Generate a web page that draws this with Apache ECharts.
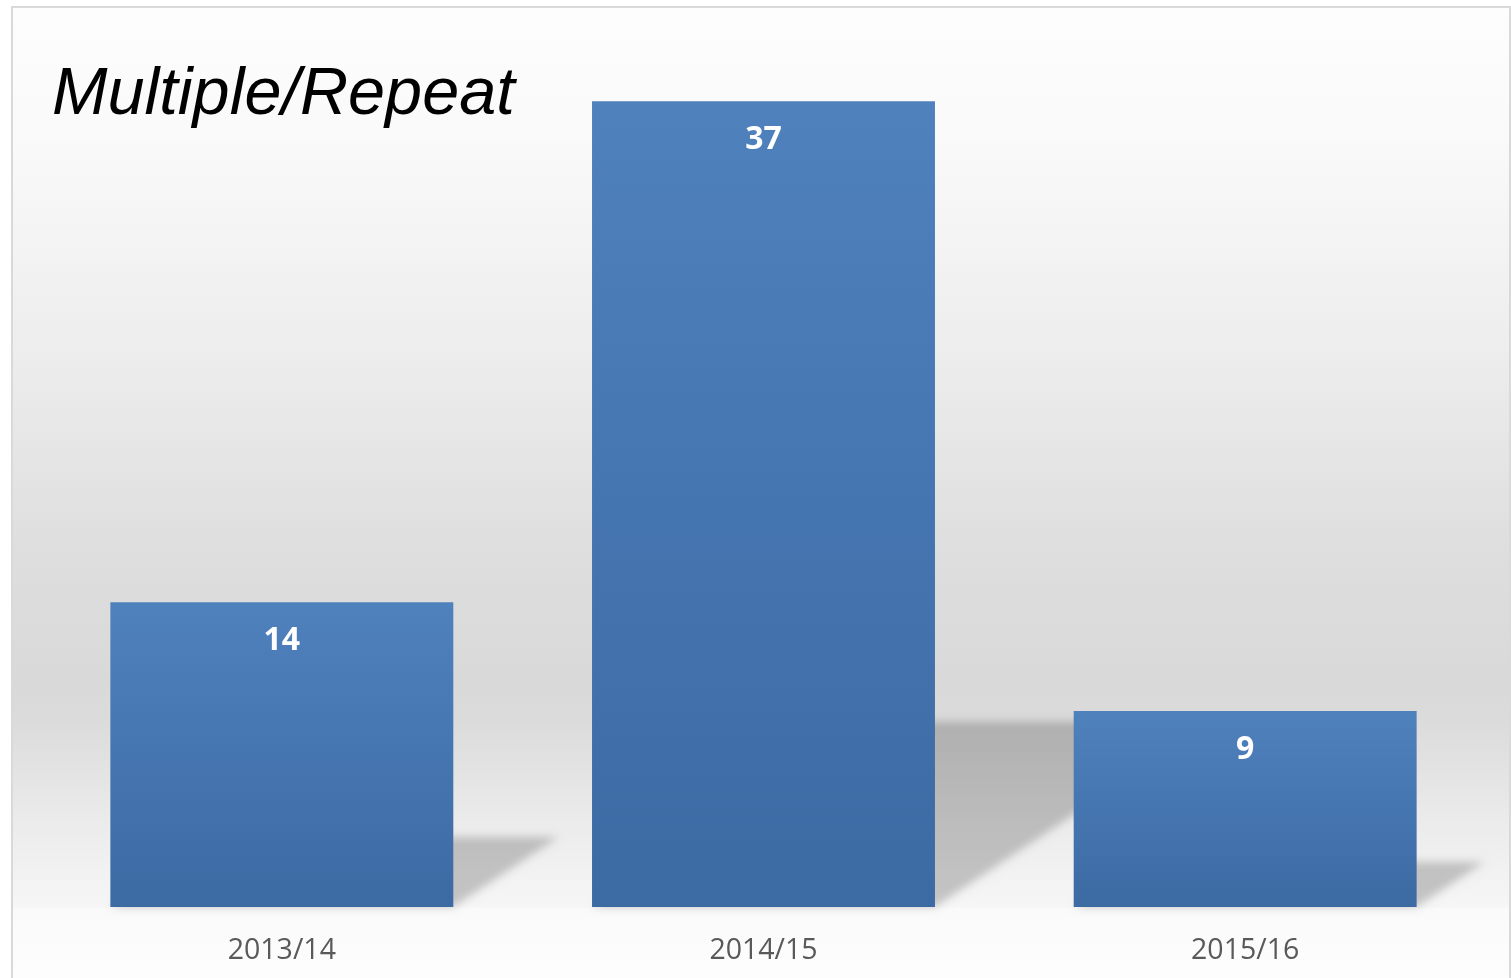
<!DOCTYPE html>
<html>
<head>
    <meta charset="UTF-8">
    <title>Multiple/Repeat</title>
    <script src="https://cdn.jsdelivr.net/npm/echarts@6/dist/echarts.min.js"></script>
    <style>
        html, body { margin: 0; padding: 0; background: #fff; }
        #main { width: 1511px; height: 978px; }
    </style>
</head>
<body>
    <div id="main"></div>
    <script type="text/javascript">
        // data
        var categories = ['2013/14', '2014/15', '2015/16'];
        var values = [14, 37, 9];
        var yMax = 40;

        var barRatio = 0.712;   // bar width share of a category band
        var SHIFT = 3000;       // shape drawn off-canvas, only its blurred shadow shows

        var myChart = echarts.init(document.getElementById('main'));

        // soft shadow cast behind each bar (drawn from the same data)
        function renderShadow(params, api) {
            var v = api.value(1);
            var top = api.coord([api.value(0), v]);
            var base = api.coord([api.value(0), 0]);
            var half = api.size([1, 0])[0] * barRatio / 2;
            var xl = base[0] - half - SHIFT, xr = base[0] + half - SHIFT;
            var dy = (base[1] - top[1]) * 0.23;
            var dx = dy * 1.5;
            return {
                type: 'polygon',
                shape: {
                    points: [[xr, base[1]], [xr + dx, base[1] - dy], [xl + dx, base[1] - dy], [xl, base[1]]]
                },
                style: {
                    fill: '#000',
                    shadowBlur: 8,
                    shadowOffsetX: SHIFT,
                    shadowColor: 'rgba(0,0,0,0.2)'
                },
                z2: 0
            };
        }

        var option = {
            backgroundColor: '#ffffff',
            animation: false,
            graphic: [{
                type: 'rect',
                z: -10,
                shape: { x: 12, y: 7, width: 1498, height: 1000 },
                style: {
                    stroke: '#d9d9d9',
                    lineWidth: 2,
                    fill: {
                        type: 'linear', x: 0, y: 0, x2: 0, y2: 1,
                        colorStops: [
                            { offset: 0, color: '#fdfdfd' },
                            { offset: 0.143, color: '#f9f9f9' },
                            { offset: 0.343, color: '#ededed' },
                            { offset: 0.543, color: '#dedede' },
                            { offset: 0.673, color: '#d9d9d9' },
                            { offset: 0.713, color: '#dbdbdb' },
                            { offset: 0.813, color: '#ebebeb' },
                            { offset: 0.899, color: '#f6f6f6' },
                            { offset: 0.901, color: '#fafafa' },
                            { offset: 0.971, color: '#fdfdfd' },
                            { offset: 1, color: '#fdfdfd' }
                        ]
                    }
                }
            }],
            title: {
                text: 'Multiple/Repeat',
                left: 47,
                top: 57,
                textStyle: {
                    fontFamily: 'Liberation Sans',
                    fontStyle: 'italic',
                    fontWeight: 'normal',
                    fontSize: 66.6,
                    color: '#000000'
                }
            },
            grid: { left: 41, right: 25, top: 36, bottom: 71 },
            xAxis: {
                type: 'category',
                data: categories,
                axisLine: { show: false },
                axisTick: { show: false },
                axisLabel: {
                    margin: 29,
                    fontFamily: 'Open Sans',
                    fontSize: 28.5,
                    color: '#595959'
                }
            },
            yAxis: {
                type: 'value',
                min: 0,
                max: yMax,
                show: false,
                splitLine: { show: false }
            },
            series: [{
                type: 'custom',
                renderItem: renderShadow,
                clip: false,
                data: categories.map(function (c, i) { return [i, values[i]]; }),
                z: 1,
                silent: true
            }, {
                type: 'bar',
                data: values,
                barWidth: (barRatio * 100) + '%',
                z: 2,
                itemStyle: {
                    color: {
                        type: 'linear', x: 0, y: 0, x2: 0, y2: 1,
                        colorStops: [
                            { offset: 0, color: '#4f81bd' },
                            { offset: 1, color: '#3c6aa3' }
                        ]
                    }
                },
                label: {
                    show: true,
                    position: 'insideTop',
                    distance: 23,
                    fontFamily: 'Open Sans',
                    fontWeight: 'bold',
                    fontSize: 32,
                    color: '#ffffff'
                }
            }]
        };

        myChart.setOption(option);
    </script>
</body>
</html>
